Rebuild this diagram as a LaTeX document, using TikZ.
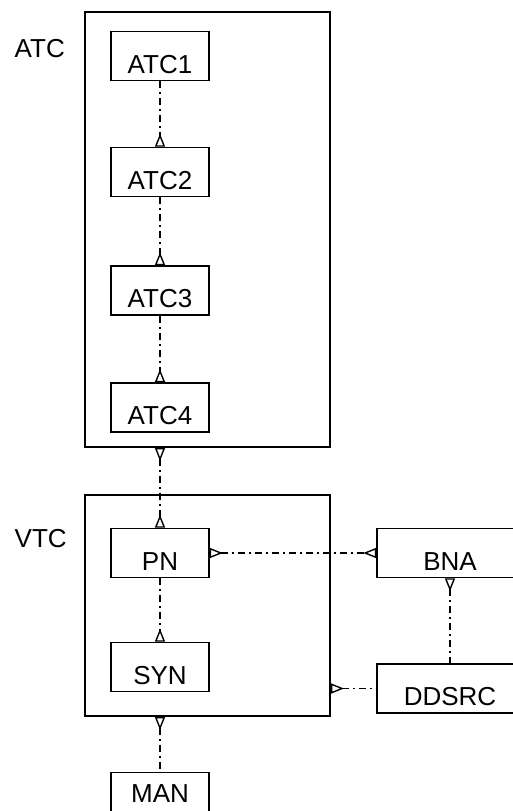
\documentclass[tikz,border=0pt]{standalone}
\usepackage{fontspec}
\setmainfont{Liberation Sans}
\usepackage{tikz}
\usetikzlibrary{arrows.meta}

\begin{document}
\begin{tikzpicture}[x=1pt,y=-1pt,>={Triangle[open,reversed,length=13pt,width=10pt,line width=1.4pt]},line width=1.4pt,font=\fontsize{26}{31}\selectfont]
\tikzstyle{block} = [draw=black, line width=1.6pt, minimum width=98pt, minimum height=49pt, inner sep=0pt, text height=34pt, text depth=0pt]
\tikzstyle{group} = [draw=black, line width=2pt, inner sep=0pt]
\tikzstyle{link} = [dash pattern=on 7pt off 4pt on 2pt off 4pt]

\useasboundingbox (0,0) rectangle (513,811);
\clip (0,0) rectangle (513,811);

\node (atc) at (207.5,229.5) [group, minimum width=245pt, minimum height=435pt] {};
\node (vtc) at (207.5,605.5) [group, minimum width=245pt, minimum height=221pt] {};
\node (atclabel) at (14,49) [anchor=west, inner sep=0pt] {ATC};
\node (vtclabel) at (14,539) [anchor=west, inner sep=0pt] {VTC};

\node (atc1) at (160,56) [block] {ATC1};
\node (atc2) at (160,172) [block] {ATC2};
\node (atc3) at (160,290.5) [block] {ATC3};
\node (atc4) at (160,407.5) [block] {ATC4};
\node (pn) at (160,553) [block] {PN};
\node (syn) at (160,667) [block] {SYN};
\node (man) at (160,797) [block, text height=10pt] {MAN};
\node (bna) at (450,553) [block, minimum width=146pt] {BNA};
\node (ddsrc) at (450,688.5) [block, minimum width=146pt] {DDSRC};

\coordinate (atcout) at (pn.north |- atc.south);
\coordinate (vtcout) at (man.north |- vtc.south);
\coordinate (vtcside) at (vtc.east |- ddsrc.west);

\draw [link,->] (atc1) -- (atc2);
\draw [link,->] (atc2) -- (atc3);
\draw [link,->] (atc3) -- (atc4);
\draw [link,<->] (atcout) -- (pn);
\draw [link,->] (pn) -- (syn);
\draw [link,<->] (pn) -- (bna);
\draw [link,<-] (bna.south) -- (bna.south |- ddsrc.north);
\draw [link,<-] (vtcside) -- (ddsrc.west);
\draw [link,<-] (vtcout) -- (man.north);

\end{tikzpicture}
\end{document}
